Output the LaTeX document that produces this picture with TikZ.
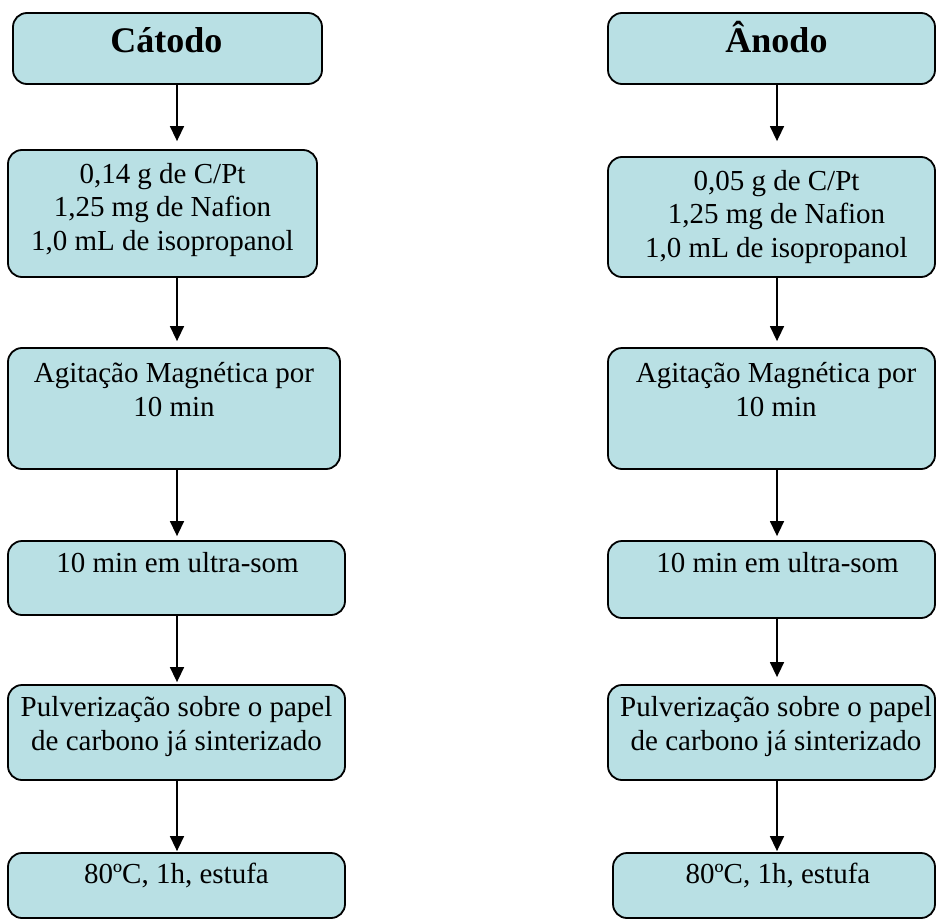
\documentclass[tikz,border=0pt]{standalone}
\usepackage{fontspec}
\setmainfont{Liberation Serif}
\usetikzlibrary{arrows.meta}
\definecolor{boxfill}{RGB}{185,224,228}
\begin{document}
\begin{tikzpicture}[x=1pt,y=-1pt,
  stepbox/.style={draw=black, line width=1.8pt, fill=boxfill, rounded corners=14pt, inner sep=0pt},
  txt/.style={font=\fontsize{29}{33.5}\selectfont, align=center, inner sep=0pt, anchor=base},
  ttl/.style={font=\fontsize{36}{40}\selectfont\bfseries, inner sep=0pt, anchor=base},
  flow/.style={line width=1.5pt, -{Triangle[width=14pt,length=15pt]}}]
\useasboundingbox (0,0) rectangle (936,920);
% columns of arrows
\coordinate (lx) at (177,0);
\coordinate (rx) at (777,0);
% left boxes
\node[stepbox, minimum width=309pt, minimum height=71pt]  (L1) at (167.5,48.5) {};
\node[stepbox, minimum width=309pt, minimum height=127pt] (L2) at (162.5,213.5) {};
\node[stepbox, minimum width=332pt, minimum height=121pt] (L3) at (174,408.5) {};
\node[stepbox, minimum width=337pt, minimum height=74pt]  (L4) at (176.5,578) {};
\node[stepbox, minimum width=337pt, minimum height=95pt]  (L5) at (176.5,732.5) {};
\node[stepbox, minimum width=337pt, minimum height=65pt]  (L6) at (176.5,885.5) {};
% right boxes
\node[stepbox, minimum width=327pt, minimum height=71pt]  (R1) at (771.5,48.5) {};
\node[stepbox, minimum width=327pt, minimum height=120pt] (R2) at (771.5,217) {};
\node[stepbox, minimum width=327pt, minimum height=121pt] (R3) at (771.5,408.5) {};
\node[stepbox, minimum width=327pt, minimum height=77pt]  (R4) at (771.5,579.5) {};
\node[stepbox, minimum width=327pt, minimum height=95pt]  (R5) at (771.5,732.5) {};
\node[stepbox, minimum width=322pt, minimum height=65pt]  (R6) at (774,885.5) {};
% texts (anchor base = baseline of the last line)
\node[ttl] (tL1) at (166.5,53) {Cátodo};
\node[ttl] (tR1) at (776.5,53) {Ânodo};
\node[txt] (tL2) at (162.5,250) {0,14 g de C/Pt\\1,25 mg de Nafion\\1,0 mL de isopropanol};
\node[txt] (tR2) at (776.5,257) {0,05 g de C/Pt\\1,25 mg de Nafion\\1,0 mL de isopropanol};
\node[txt] (tL3) at (174,416) {Agitação Magnética por\\10 min};
\node[txt] (tR3) at (776,416) {Agitação Magnética por\\10 min};
\node[txt] (tL4) at (177.5,572) {10 min em ultra-som};
\node[txt] (tR4) at (777.5,572) {10 min em ultra-som};
\node[txt] (tL5) at (176.5,750) {Pulverização sobre o papel\\de carbono já sinterizado};
\node[txt] (tR5) at (776,750) {Pulverização sobre o papel\\de carbono já sinterizado};
\node[txt] (tL6) at (176.5,883) {80ºC, 1h, estufa};
\node[txt] (tR6) at (778,883) {80ºC, 1h, estufa};
% arrows left
\draw[flow] (L1.south -| lx) -- ([yshift=8pt]L2.north -| lx);
\draw[flow] (L2.south -| lx) -- ([yshift=6pt]L3.north -| lx);
\draw[flow] (L3.south -| lx) -- ([yshift=4pt]L4.north -| lx);
\draw[flow] (L4.south -| lx) -- ([yshift=2pt]L5.north -| lx);
\draw[flow] (L5.south -| lx) -- ([yshift=1pt]L6.north -| lx);
% arrows right
\draw[flow] (R1.south -| rx) -- ([yshift=15pt]R2.north -| rx);
\draw[flow] (R2.south -| rx) -- ([yshift=6pt]R3.north -| rx);
\draw[flow] (R3.south -| rx) -- ([yshift=4pt]R4.north -| rx);
\draw[flow] (R4.south -| rx) -- ([yshift=7pt]R5.north -| rx);
\draw[flow] (R5.south -| rx) -- ([yshift=1pt]R6.north -| rx);
\end{tikzpicture}
\end{document}
